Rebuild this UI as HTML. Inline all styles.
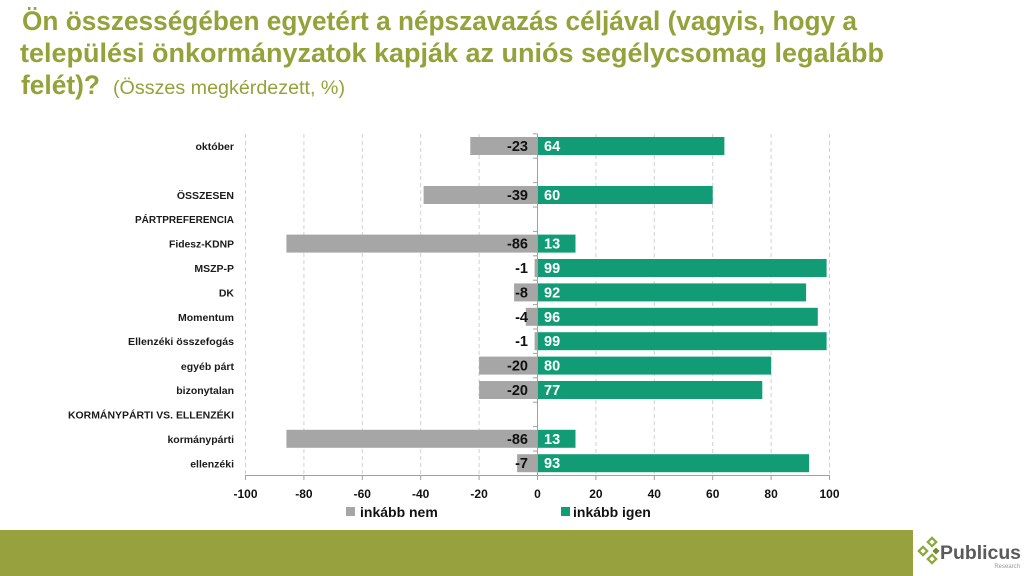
<!DOCTYPE html>
<html>
<head>
<meta charset="utf-8">
<style>
html,body{margin:0;padding:0;background:#fff;}
svg{display:block;}
text{font-family:"Liberation Sans",Arial,sans-serif;}
</style>
</head>
<body>
<svg width="1024" height="576" viewBox="0 0 1024 576" xmlns="http://www.w3.org/2000/svg">
  <rect width="1024" height="576" fill="#fff"/>
  <!-- Title -->
  <g fill="#95a23a" font-weight="bold" font-size="27">
    <text x="22" y="30" textLength="835" lengthAdjust="spacingAndGlyphs">Ön összességében egyetért a népszavazás céljával (vagyis, hogy a</text>
    <text x="20" y="62" textLength="864" lengthAdjust="spacingAndGlyphs">települési önkormányzatok kapják az uniós segélycsomag legalább</text>
    <text x="21" y="94" textLength="79" lengthAdjust="spacingAndGlyphs">felét)?</text>
  </g>
  <text x="113" y="94" fill="#95a23a" font-size="19" textLength="232" lengthAdjust="spacingAndGlyphs">(Összes megkérdezett, %)</text>

  <!-- Gridlines -->
  <g stroke="#d0d0d0" stroke-width="1" stroke-dasharray="4,3">
    <line x1="245.5" y1="134" x2="245.5" y2="475"/>
    <line x1="303.9" y1="134" x2="303.9" y2="475"/>
    <line x1="362.3" y1="134" x2="362.3" y2="475"/>
    <line x1="420.7" y1="134" x2="420.7" y2="475"/>
    <line x1="479.1" y1="134" x2="479.1" y2="475"/>
    <line x1="595.9" y1="134" x2="595.9" y2="475"/>
    <line x1="654.3" y1="134" x2="654.3" y2="475"/>
    <line x1="712.7" y1="134" x2="712.7" y2="475"/>
    <line x1="771.1" y1="134" x2="771.1" y2="475"/>
    <line x1="829.5" y1="134" x2="829.5" y2="475"/>
  </g>

  <!-- Bars: x(v)=537.5+2.92v ; rows center 146+24.4i ; height 18 -->
  <g fill="#a6a6a6">
    <rect x="470.3" y="137" width="67.2" height="18"/>   <!-- -23 -->
    <rect x="423.6" y="186" width="113.9" height="18"/>  <!-- -39 -->
    <rect x="286.4" y="234.6" width="251.1" height="18"/> <!-- -86 -->
    <rect x="534.6" y="259" width="2.9" height="18"/>     <!-- -1 -->
    <rect x="514.1" y="283.4" width="23.4" height="18"/>  <!-- -8 -->
    <rect x="525.8" y="307.8" width="11.7" height="18"/>  <!-- -4 -->
    <rect x="534.6" y="332.2" width="2.9" height="18"/>   <!-- -1 -->
    <rect x="479.1" y="356.6" width="58.4" height="18"/>  <!-- -20 -->
    <rect x="479.1" y="381" width="58.4" height="18"/>    <!-- -20 -->
    <rect x="286.4" y="429.8" width="251.1" height="18"/> <!-- -86 -->
    <rect x="517.1" y="454.2" width="20.4" height="18"/>  <!-- -7 -->
  </g>
  <g fill="#119c75">
    <rect x="537.5" y="137" width="186.9" height="18"/>   <!-- 64 -->
    <rect x="537.5" y="186" width="175.2" height="18"/>   <!-- 60 -->
    <rect x="537.5" y="234.6" width="38" height="18"/>    <!-- 13 -->
    <rect x="537.5" y="259" width="289.1" height="18"/>   <!-- 99 -->
    <rect x="537.5" y="283.4" width="268.6" height="18"/> <!-- 92 -->
    <rect x="537.5" y="307.8" width="280.3" height="18"/> <!-- 96 -->
    <rect x="537.5" y="332.2" width="289.1" height="18"/> <!-- 99 -->
    <rect x="537.5" y="356.6" width="233.6" height="18"/> <!-- 80 -->
    <rect x="537.5" y="381" width="224.8" height="18"/>   <!-- 77 -->
    <rect x="537.5" y="429.8" width="38" height="18"/>    <!-- 13 -->
    <rect x="537.5" y="454.2" width="271.6" height="18"/> <!-- 93 -->
  </g>

  <!-- Axes -->
  <g stroke="#a0a0a0" stroke-width="1">
    <line x1="537.5" y1="134" x2="537.5" y2="475"/>
    <line x1="245.5" y1="475.5" x2="829.5" y2="475.5"/>
    <!-- x ticks -->
    <line x1="245.5" y1="475" x2="245.5" y2="480"/>
    <line x1="303.9" y1="475" x2="303.9" y2="480"/>
    <line x1="362.3" y1="475" x2="362.3" y2="480"/>
    <line x1="420.7" y1="475" x2="420.7" y2="480"/>
    <line x1="479.1" y1="475" x2="479.1" y2="480"/>
    <line x1="537.5" y1="475" x2="537.5" y2="480"/>
    <line x1="595.9" y1="475" x2="595.9" y2="480"/>
    <line x1="654.3" y1="475" x2="654.3" y2="480"/>
    <line x1="712.7" y1="475" x2="712.7" y2="480"/>
    <line x1="771.1" y1="475" x2="771.1" y2="480"/>
    <line x1="829.5" y1="475" x2="829.5" y2="480"/>
    <!-- y ticks at category boundaries -->
    <line x1="533" y1="133.8" x2="537.5" y2="133.8"/>
    <line x1="533" y1="158.2" x2="537.5" y2="158.2"/>
    <line x1="533" y1="182.6" x2="537.5" y2="182.6"/>
    <line x1="533" y1="207" x2="537.5" y2="207"/>
    <line x1="533" y1="231.4" x2="537.5" y2="231.4"/>
    <line x1="533" y1="255.8" x2="537.5" y2="255.8"/>
    <line x1="533" y1="280.2" x2="537.5" y2="280.2"/>
    <line x1="533" y1="304.6" x2="537.5" y2="304.6"/>
    <line x1="533" y1="329" x2="537.5" y2="329"/>
    <line x1="533" y1="353.4" x2="537.5" y2="353.4"/>
    <line x1="533" y1="377.8" x2="537.5" y2="377.8"/>
    <line x1="533" y1="402.2" x2="537.5" y2="402.2"/>
    <line x1="533" y1="426.6" x2="537.5" y2="426.6"/>
    <line x1="533" y1="451" x2="537.5" y2="451"/>
  </g>

  <!-- Category labels -->
  <g font-size="10.5" font-weight="bold" fill="#1a1a1a" text-anchor="end">
    <text x="234" y="150">október</text>
    <text x="234" y="199">ÖSSZESEN</text>
    <text x="234" y="223" textLength="99" lengthAdjust="spacingAndGlyphs">PÁRTPREFERENCIA</text>
    <text x="234" y="247.5" textLength="65" lengthAdjust="spacingAndGlyphs">Fidesz-KDNP</text>
    <text x="234" y="272">MSZP-P</text>
    <text x="234" y="296.5">DK</text>
    <text x="234" y="321">Momentum</text>
    <text x="234" y="345" textLength="106" lengthAdjust="spacingAndGlyphs">Ellenzéki összefogás</text>
    <text x="234" y="370">egyéb párt</text>
    <text x="234" y="394">bizonytalan</text>
    <text x="234" y="418.5" textLength="166" lengthAdjust="spacingAndGlyphs">KORMÁNYPÁRTI VS. ELLENZÉKI</text>
    <text x="234" y="443">kormánypárti</text>
    <text x="234" y="467.5">ellenzéki</text>
  </g>

  <!-- Negative value labels -->
  <g font-size="14.5" font-weight="bold" fill="#111" text-anchor="end">
    <text x="528" y="151">-23</text>
    <text x="528" y="200">-39</text>
    <text x="528" y="248.6">-86</text>
    <text x="528" y="273">-1</text>
    <text x="528" y="297.4">-8</text>
    <text x="528" y="321.8">-4</text>
    <text x="528" y="346.2">-1</text>
    <text x="528" y="370.6">-20</text>
    <text x="528" y="395">-20</text>
    <text x="528" y="443.8">-86</text>
    <text x="528" y="468.2">-7</text>
  </g>
  <!-- Positive value labels -->
  <g font-size="14.5" font-weight="bold" fill="#fff">
    <text x="544" y="151">64</text>
    <text x="544" y="200">60</text>
    <text x="544" y="248.6">13</text>
    <text x="544" y="273">99</text>
    <text x="544" y="297.4">92</text>
    <text x="544" y="321.8">96</text>
    <text x="544" y="346.2">99</text>
    <text x="544" y="370.6">80</text>
    <text x="544" y="395">77</text>
    <text x="544" y="443.8">13</text>
    <text x="544" y="468.2">93</text>
  </g>

  <!-- X tick labels -->
  <g font-size="12" font-weight="bold" fill="#111" text-anchor="middle">
    <text x="245.5" y="498">-100</text>
    <text x="303.9" y="498">-80</text>
    <text x="362.3" y="498">-60</text>
    <text x="420.7" y="498">-40</text>
    <text x="479.1" y="498">-20</text>
    <text x="537.5" y="498">0</text>
    <text x="595.9" y="498">20</text>
    <text x="654.3" y="498">40</text>
    <text x="712.7" y="498">60</text>
    <text x="771.1" y="498">80</text>
    <text x="829.5" y="498">100</text>
  </g>

  <!-- Legend -->
  <rect x="346" y="507" width="9" height="9" fill="#a6a6a6"/>
  <text x="360" y="517" font-size="14" font-weight="bold" fill="#111">inkább nem</text>
  <rect x="561" y="507" width="9" height="9" fill="#119c75"/>
  <text x="573" y="517" font-size="14" font-weight="bold" fill="#111">inkább igen</text>

  <!-- Bottom band -->
  <rect x="0" y="530" width="913" height="46" fill="#97a23e"/>

  <!-- Logo -->
  <g fill="none" stroke="#8aa83a" stroke-width="2.2">
    <rect x="-3" y="-3" width="6" height="6" transform="translate(932 542) rotate(45)"/>
    <rect x="-3" y="-3" width="6" height="6" transform="translate(923 551) rotate(45)"/>
    <rect x="-3" y="-3" width="6" height="6" transform="translate(932 559) rotate(45)"/>
  </g>
  <rect x="-2.5" y="-2.5" width="5" height="5" fill="#6f8a2e" transform="translate(936 551) rotate(45)"/>
  <text x="940" y="559" font-size="19" font-weight="bold" fill="#5a5a5a" textLength="81" lengthAdjust="spacingAndGlyphs">Publicus</text>
  <text x="1020" y="568" font-size="6" fill="#9a9a9a" text-anchor="end">Research</text>
</svg>
</body>
</html>
